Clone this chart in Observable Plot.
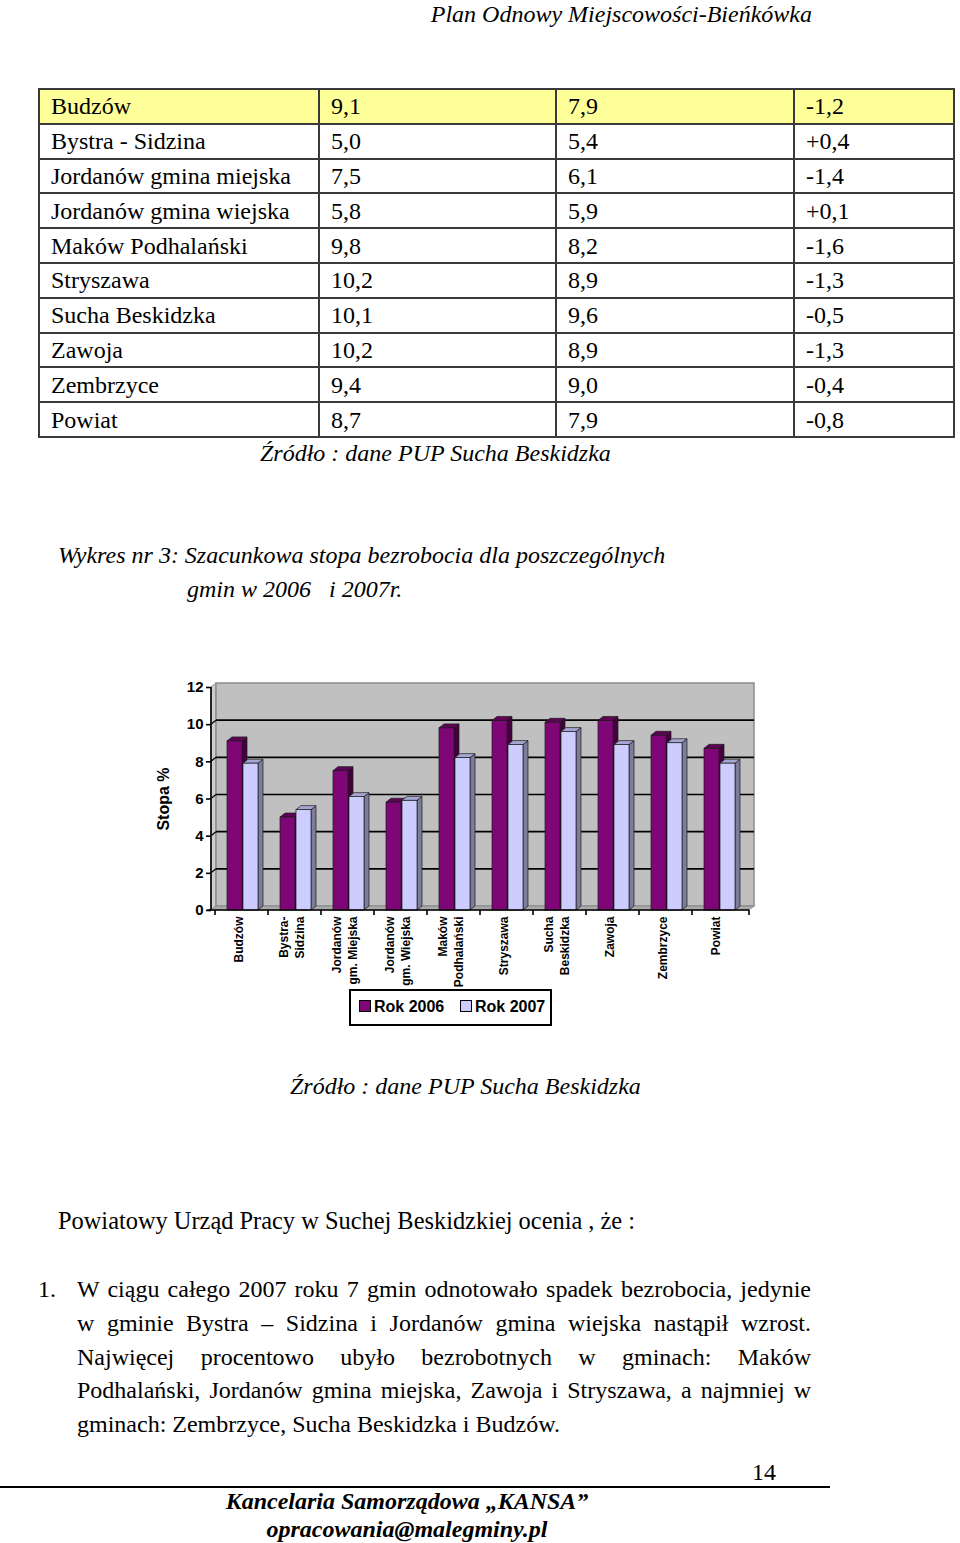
<!DOCTYPE html>
<html>
<head>
<meta charset="utf-8">
<script src="https://cdn.jsdelivr.net/npm/d3@7"></script>
<script src="https://cdn.jsdelivr.net/npm/@observablehq/plot@0.6"></script>
<style>
  body { margin: 0; background: #fff; }
  #page { position: relative; width: 960px; height: 1543px; overflow: hidden; background: #fff;
          font-family: "Liberation Serif", "Times New Roman", serif; color: #000; }
  .t { position: absolute; white-space: pre; line-height: 1; font-size: 24px; }
  .i { font-style: italic; }
  .bi { font-style: italic; font-weight: bold; }
  table { position: absolute; left: 38px; top: 88px; border-collapse: collapse; table-layout: fixed;
          font-size: 24px; }
  td { border: 2px solid #3a3a3a; height: 32.8px; padding: 0 0 0 11px; vertical-align: middle; white-space: nowrap; line-height: 1; }
  tr.first td { background: #ffff99; }
  #chart { position: absolute; left: 140px; top: 660px; }
  #chart g[aria-label="y-axis tick label"], #chart g[aria-label="y-axis tick label"] text { font-size: 15px !important; font-weight: bold !important; }
  #legend { position: absolute; left: 349px; top: 989px; width: 199px; height: 33px; border: 2px solid #000;
            font-family: "Liberation Sans", Arial, sans-serif; font-weight: bold; font-size: 16px; }
  .lg { position: absolute; top: 8px; line-height: 1; white-space: nowrap; }
  .sw { display: inline-block; width: 10px; height: 10px; border: 1px solid #000; margin-right: 3px; vertical-align: 0px; }
  .line { position: absolute; left: 77px; width: 734px; font-size: 24px; line-height: 1; white-space: nowrap; }
  .just { text-align: justify; text-align-last: justify; white-space: normal; }
  #rule { position: absolute; left: 0; top: 1486px; width: 830px; height: 2px; background: #000; }
</style>
</head>
<body>
<div id="page">
  <div class="t i" style="right:148px; top:2px; font-size:24px;">Plan Odnowy Miejscowości-Bieńkówka</div>
  <table id="tbl"></table>
  <div class="t i" style="left:260px; top:441px;">Źródło : dane PUP Sucha Beskidzka</div>
  <div class="t i" style="left:58px; top:543px;">Wykres nr 3: Szacunkowa stopa bezrobocia dla poszczególnych</div>
  <div class="t i" style="left:187px; top:577px;">gmin w 2006   i 2007r.</div>
  <div id="chart"></div>
  <div id="legend"></div>
  <div class="t i" style="left:290px; top:1074px;">Źródło : dane PUP Sucha Beskidzka</div>
  <div class="t" style="left:58px; top:1209px; font-size:24.4px;">Powiatowy Urząd Pracy w Suchej Beskidzkiej ocenia , że :</div>
  <div class="t" style="left:38px; top:1277px;">1.</div>
  <div class="line just" style="top:1277px;">W ciągu całego 2007 roku 7 gmin odnotowało spadek bezrobocia, jedynie</div>
  <div class="line just" style="top:1311px;">w gminie Bystra – Sidzina i Jordanów gmina wiejska nastąpił wzrost.</div>
  <div class="line just" style="top:1345px;">Najwięcej procentowo ubyło bezrobotnych w gminach: Maków</div>
  <div class="line just" style="top:1378px;">Podhalański, Jordanów gmina miejska, Zawoja i Stryszawa, a najmniej w</div>
  <div class="line" style="top:1412px;">gminach: Zembrzyce, Sucha Beskidzka i Budzów.</div>
  <div class="t" style="left:752px; top:1460px;">14</div>
  <div id="rule"></div>
  <div class="t bi" style="left:0; width:814px; text-align:center; top:1489px;">Kancelaria Samorządowa „KANSA”</div>
  <div class="t bi" style="left:0; width:814px; text-align:center; top:1517px;">opracowania@malegminy.pl</div>
</div>
<script>
// ---------- data ----------
const tableNames = ["Budzów", "Bystra - Sidzina", "Jordanów gmina miejska", "Jordanów gmina wiejska",
  "Maków Podhalański", "Stryszawa", "Sucha Beskidzka", "Zawoja", "Zembrzyce", "Powiat"];
const tableChange = ["-1,2", "+0,4", "-1,4", "+0,1", "-1,6", "-1,3", "-0,5", "-1,3", "-0,4", "-0,8"];

const gminy = ["Budzów", "Bystra-\nSidzina", "Jordanów\ngm. Miejska", "Jordanów\ngm. Wiejska",
  "Maków\nPodhalański", "Stryszawa", "Sucha\nBeskidzka", "Zawoja", "Zembrzyce", "Powiat"];
const rok2006 = [9.1, 5.0, 7.5, 5.8, 9.8, 10.2, 10.1, 10.2, 9.4, 8.7];
const rok2007 = [7.9, 5.4, 6.1, 5.9, 8.2, 8.9, 9.6, 8.9, 9.0, 7.9];
const yTicks = [0, 2, 4, 6, 8, 10, 12];
const seriesNames = ["Rok 2006", "Rok 2007"];
const yTitle = "Stopa %";

// ---------- table ----------
const fmt = v => v.toFixed(1).replace(".", ",");
const colW = [280, 237, 238, 160];
const tbl = document.getElementById("tbl");
tableNames.forEach((n, i) => {
  const tr = document.createElement("tr");
  if (i === 0) tr.className = "first";
  [n, fmt(rok2006[i]), fmt(rok2007[i]), tableChange[i]].forEach((txt, j) => {
    const td = document.createElement("td");
    td.textContent = txt;
    td.style.width = (colW[j] - 13) + "px";
    tr.appendChild(td);
  });
  tbl.appendChild(tr);
});

// ---------- chart ----------
const C = {
  p: "#7e0676", pTop: "#5e0456", pSide: "#44003e",
  l: "#ccccff", lTop: "#a6a6d2", lSide: "#7c7c9c",
  wall: "#c0c0c0", wallEdge: "#8c8c8c", floor: "#a9a9a9", lwall: "#cdcdcd"
};
const D = 5, DY = 4;

const data = gminy.map((g, i) => ({gmina: g, v2006: rok2006[i], v2007: rok2007[i]}));
const yMax = d3.max(yTicks);

function backdrop(index, scales, values, dims) {
  const y = scales.y;
  const x0 = dims.marginLeft, x1 = dims.width - dims.marginRight;
  const yb = y(0), yt = y(yMax);
  const g = d3.create("svg:g");
  g.append("polygon").attr("points", [[x0, yb], [x0, yt], [x0 + D, yt - DY], [x0 + D, yb - DY]].join(" "))
    .attr("fill", C.lwall).attr("stroke", C.wallEdge).attr("stroke-width", 1);
  g.append("rect").attr("x", x0 + D).attr("y", yt - DY).attr("width", x1 - x0).attr("height", yb - yt)
    .attr("fill", C.wall).attr("stroke", C.wallEdge).attr("stroke-width", 1.5);
  g.append("polygon").attr("points", [[x0, yb], [x1, yb], [x1 + D, yb - DY], [x0 + D, yb - DY]].join(" "))
    .attr("fill", C.floor).attr("stroke", C.wallEdge).attr("stroke-width", 1);
  yTicks.filter(t => t > 0 && t < yMax).forEach(t => {
    g.append("line").attr("x1", x0 + D).attr("x2", x1 + D).attr("y1", y(t) - DY).attr("y2", y(t) - DY)
      .attr("stroke", "#000").attr("stroke-width", 1.6);
    g.append("line").attr("x1", x0).attr("x2", x0 + D).attr("y1", y(t)).attr("y2", y(t) - DY)
      .attr("stroke", "#000").attr("stroke-width", 1.2);
  });
  return g.node();
}

function axesLines(index, scales, values, dims) {
  const y = scales.y, x = scales.x;
  const x0 = dims.marginLeft, x1 = dims.width - dims.marginRight;
  const yb = y(0), yt = y(yMax);
  const g = d3.create("svg:g").attr("stroke", "#000").attr("stroke-width", 1.6);
  g.append("line").attr("x1", x0).attr("x2", x0).attr("y1", yt).attr("y2", yb);
  g.append("line").attr("x1", x0 - 4).attr("x2", x1).attr("y1", yb).attr("y2", yb);
  const ticks = gminy.map(d => x(d)).concat([x1]);
  ticks.forEach(tx => g.append("line").attr("x1", tx).attr("x2", tx).attr("y1", yb).attr("y2", yb + 5));
  return g.node();
}

const faces = (topFill, sideFill) => (index, scales, values, dims, ctx, next) => {
  const g = next(index, scales, values, dims, ctx);
  d3.select(g).selectAll("rect").each(function () {
    const r = d3.select(this);
    const X = +r.attr("x"), Y = +r.attr("y"), W = +r.attr("width"), H = +r.attr("height");
    const side = document.createElementNS("http://www.w3.org/2000/svg", "polygon");
    side.setAttribute("points", [[X + W, Y], [X + W + D, Y - DY], [X + W + D, Y + H - DY], [X + W, Y + H]].join(" "));
    side.setAttribute("fill", sideFill);
    side.setAttribute("stroke", "#1a1a1a"); side.setAttribute("stroke-width", "0.7");
    const top = document.createElementNS("http://www.w3.org/2000/svg", "polygon");
    top.setAttribute("points", [[X, Y], [X + W, Y], [X + W + D, Y - DY], [X + D, Y - DY]].join(" "));
    top.setAttribute("fill", topFill);
    top.setAttribute("stroke", "#1a1a1a"); top.setAttribute("stroke-width", "0.7");
    this.parentNode.insertBefore(side, this);
    this.parentNode.insertBefore(top, this);
  });
  return g;
};

const chart = Plot.plot({
  width: 640,
  height: 340,
  marginLeft: 71,
  marginRight: 31,
  marginTop: 27,
  marginBottom: 90,
  style: {fontFamily: '"Liberation Sans", Arial, sans-serif', fontSize: "12px", color: "#000", background: "transparent", overflow: "visible"},
  x: {type: "band", domain: gminy, paddingInner: 0, paddingOuter: 0, axis: null},
  y: {domain: [0, yMax], axis: null},
  marks: [
    backdrop,
    Plot.barY(data, {x: "gmina", y: "v2006", fill: C.p, stroke: "#1a1a1a", strokeWidth: 0.7,
      insetLeft: 12, insetRight: 26, render: faces(C.pTop, C.pSide)}),
    Plot.barY(data, {x: "gmina", y: "v2007", fill: C.l, stroke: "#1a1a1a", strokeWidth: 0.7,
      insetLeft: 28, insetRight: 10, render: faces(C.lTop, C.lSide)}),
    axesLines,
    Plot.axisY({ticks: yTicks, tickSize: 5, tickPadding: 3, fontSize: 15, fontWeight: "bold",
      tickFormat: d => String(d), label: null, strokeWidth: 1.6}),
    Plot.text(gminy, {x: d => d, frameAnchor: "bottom", rotate: -90, textAnchor: "end", lineAnchor: "middle",
      lineHeight: 1.3, dx: -4, dy: 6, fontSize: 12, fontWeight: "bold"}),
    Plot.text([yTitle], {frameAnchor: "left", rotate: -90, textAnchor: "middle", lineAnchor: "middle",
      dx: -48, dy: 0, fontSize: 16, fontWeight: "bold"})
  ]
});
document.getElementById("chart").appendChild(chart);

// ---------- legend ----------
const legend = document.getElementById("legend");
const legendFill = [C.p, C.l];
const legendX = [8, 109];
seriesNames.forEach((s, i) => {
  const it = document.createElement("div");
  it.className = "lg";
  it.style.left = legendX[i] + "px";
  it.innerHTML = `<span class="sw" style="background:${legendFill[i]}"></span>${s}`;
  legend.appendChild(it);
});
</script>
</body>
</html>
